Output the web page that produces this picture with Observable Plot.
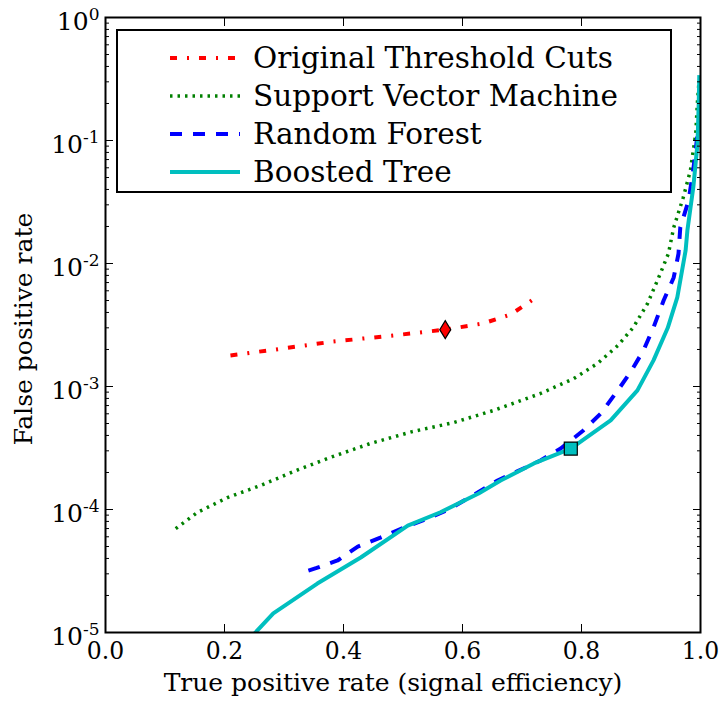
<!DOCTYPE html>
<html>
<head>
<meta charset="utf-8">
<script src="https://cdn.jsdelivr.net/npm/d3@7"></script>
<script src="https://cdn.jsdelivr.net/npm/@observablehq/plot@0.6"></script>
<style>
  body { margin: 0; background: #fff; }
  #wrap { position: relative; width: 725px; height: 701px; }
  #legend {
    position: absolute; left: 116px; top: 29px; width: 556px; height: 164px;
    box-sizing: border-box; border: 2px solid #000; background: #fff;
    padding-top: 8px; font-family: "DejaVu Serif", serif; font-size: 29.5px;
  }
  .row { height: 38px; display: flex; align-items: center; }
  .row svg { margin-left: 50px; width: 75px; height: 20px; flex: none; }
  .row span { margin-left: 10px; white-space: nowrap; }
</style>
</head>
<body>
<div id="wrap"></div>
<script>
// ---- data ----
const seriesNames = ["Original Threshold Cuts", "Support Vector Machine", "Random Forest", "Boosted Tree"];

const cutsTPR = [0.210, 0.286, 0.383, 0.484, 0.571, 0.634, 0.681, 0.724];
const cutsFPR = [1.79e-3, 2.0e-3, 2.32e-3, 2.60e-3, 2.90e-3, 3.25e-3, 3.85e-3, 5.3e-3];

const svmTPR = [0.118, 0.155, 0.205, 0.261, 0.324, 0.378, 0.445, 0.516, 0.585, 0.652, 0.731, 0.787, 0.827, 0.861, 0.887, 0.911, 0.929, 0.946, 0.955, 0.971, 0.983, 0.992, 0.995, 0.997];
const svmFPR = [7.0e-5, 9.5e-5, 1.25e-4, 1.57e-4, 2.11e-4, 2.65e-4, 3.44e-4, 4.30e-4, 5.09e-4, 6.38e-4, 8.77e-4, 1.16e-3, 1.54e-3, 2.15e-3, 3.02e-3, 4.73e-3, 7.55e-3, 1.2e-2, 1.96e-2, 3.44e-2, 5.7e-2, 0.114, 0.211, 0.28];

const rfTPR = [0.341, 0.355, 0.390, 0.424, 0.462, 0.501, 0.546, 0.580, 0.625, 0.659, 0.692, 0.731, 0.765, 0.803, 0.832, 0.861, 0.882, 0.904, 0.921, 0.938, 0.955, 0.963, 0.966, 0.980, 0.987, 0.992, 0.995];
const rfFPR = [3.19e-5, 3.35e-5, 3.85e-5, 5.0e-5, 5.9e-5, 7.1e-5, 8.6e-5, 1.02e-4, 1.37e-4, 1.72e-4, 2.04e-4, 2.50e-4, 3.13e-4, 4.39e-4, 6.0e-4, 9.3e-4, 1.30e-3, 1.96e-3, 3.02e-3, 5.0e-3, 7.7e-3, 1.2e-2, 1.96e-2, 3.25e-2, 5.4e-2, 8.3e-2, 0.115];

const btTPR = [0.245, 0.252, 0.282, 0.356, 0.429, 0.508, 0.563, 0.627, 0.664, 0.720, 0.782, 0.849, 0.894, 0.921, 0.945, 0.961, 0.975, 0.978, 0.988, 0.995, 0.997, 0.998];
const btFPR = [0.9e-5, 1.0e-5, 1.43e-5, 2.5e-5, 4.07e-5, 7.4e-5, 9.5e-5, 1.35e-4, 1.72e-4, 2.37e-4, 3.13e-4, 5.3e-4, 9.3e-4, 1.63e-3, 3.0e-3, 5.3e-3, 1.28e-2, 1.86e-2, 4.2e-2, 9.5e-2, 0.2, 0.34];

const cutsMarker = {tpr: 0.571, fpr: 2.90e-3};
const btMarker = {tpr: 0.782, fpr: 3.13e-4};

const xTicks = [0, 0.2, 0.4, 0.6, 0.8, 1.0];
const xTickLabels = ["0.0", "0.2", "0.4", "0.6", "0.8", "1.0"];
const yTicks = [1e-5, 1e-4, 1e-3, 1e-2, 1e-1, 1e0];
const yTickExponents = ["-5", "-4", "-3", "-2", "-1", "0"];
const yMinor = [];
for (let k = -5; k < 0; k++) for (let m = 2; m <= 9; m++) yMinor.push(m * Math.pow(10, k));

const xLabel = "True positive rate (signal efficiency)";
const yLabel = "False positive rate";

const colors = ["#ff0000", "#008000", "#0000ff", "#00bfbf"];
const dashes = ["7,10,2,10", "2.5,5", "12,11", null];
const widths = [4, 3.5, 4, 4];

// ---- build tables ----
const toRows = (tpr, fpr) => tpr.map((t, i) => ({tpr: t, fpr: fpr[i]}));
const tables = [toRows(cutsTPR, cutsFPR), toRows(svmTPR, svmFPR), toRows(rfTPR, rfFPR), toRows(btTPR, btFPR)];

const thinDiamond = {draw(ctx) { ctx.moveTo(0, -9); ctx.lineTo(5.5, 0); ctx.lineTo(0, 9); ctx.lineTo(-5.5, 0); ctx.closePath(); }};
const square = {draw(ctx) { ctx.rect(-6.5, -6.5, 13, 13); }};

const fmtX = d => xTickLabels[xTicks.indexOf(d)];
const yIndex = d => yTicks.findIndex(v => Math.abs(Math.log10(v) - Math.log10(d)) < 1e-6);
const fmtY = d => "10^" + yTickExponents[yIndex(d)];

const chart = Plot.plot({
  width: 725, height: 701,
  marginLeft: 105, marginRight: 25, marginTop: 17, marginBottom: 69,
  style: {fontFamily: "'DejaVu Serif', serif", color: "#000", background: "#fff"},
  x: {domain: [0, 1]},
  y: {type: "log", domain: [1e-5, 1]},
  marks: [
    ...tables.map((t, i) => Plot.line(t, {x: "tpr", y: "fpr", stroke: colors[i], strokeWidth: widths[i], strokeDasharray: dashes[i], strokeLinecap: "butt", strokeLinejoin: "round", clip: true})),
    Plot.dot([cutsMarker], {x: "tpr", y: "fpr", symbol: thinDiamond, fill: colors[0], stroke: "#000", strokeWidth: 1.2}),
    Plot.dot([btMarker], {x: "tpr", y: "fpr", symbol: square, fill: colors[3], stroke: "#000", strokeWidth: 1.2}),
    // bottom axis (inward ticks) with labels
    Plot.axisX({anchor: "bottom", ticks: xTicks, tickSize: 8, dy: -8, tickPadding: 10, tickFormat: fmtX, fontSize: 23.5, label: null, strokeWidth: 1}),
    // top axis ticks only
    Plot.axisX({anchor: "top", ticks: xTicks, tickSize: 8, dy: 8, tickFormat: () => "", label: null, strokeWidth: 1}),
    // left axis: ticks, minor ticks, labels
    Plot.axisY({anchor: "left", ticks: yTicks, tickSize: 8, dx: 8, tickFormat: () => "", label: null, strokeWidth: 1}),
    Plot.axisY({anchor: "left", ticks: yMinor, tickSize: 4, dx: 4, tickFormat: () => "", label: null, strokeWidth: 1}),
    Plot.axisY({anchor: "left", ticks: yTicks, tickSize: 0, dy: 4, tickPadding: 6, tickFormat: fmtY, fontSize: 25, label: null}),
    // right axis major + minor
    Plot.axisY({anchor: "right", ticks: yTicks, tickSize: 8, dx: -8, tickFormat: () => "", label: null, strokeWidth: 1}),
    Plot.axisY({anchor: "right", ticks: yMinor, tickSize: 4, dx: -4, tickFormat: () => "", label: null, strokeWidth: 1}),
    Plot.frame({stroke: "#000", strokeWidth: 2}),
    Plot.text([xLabel], {frameAnchor: "bottom", dx: -10, dy: 58, fontSize: 25, fill: "#000"}),
    Plot.text([yLabel], {frameAnchor: "left", textAnchor: "middle", lineAnchor: "middle", dx: -82, dy: 4, rotate: -90, fontSize: 25, fill: "#000"})
  ]
});

// render exponents as superscript tspans
d3.select(chart).selectAll("text").each(function () {
  const t = this.textContent;
  const m = /^10\^(.+)$/.exec(t);
  if (!m) return;
  const sel = d3.select(this);
  sel.text(null);
  sel.append("tspan").text("10");
  sel.append("tspan").attr("dy", "-10").attr("font-size", 17).text(m[1]);
});

const wrap = document.getElementById("wrap");
wrap.appendChild(chart);

// ---- legend overlay ----
const legend = document.createElement("div");
legend.id = "legend";
seriesNames.forEach((name, i) => {
  const row = document.createElement("div");
  row.className = "row";
  const dash = dashes[i] ? ` stroke-dasharray="${dashes[i]}"` : "";
  row.innerHTML = `<svg viewBox="0 0 75 20"><line x1="2" y1="10" x2="72" y2="10" stroke="${colors[i]}" stroke-width="${widths[i]}"${dash}/></svg><span>${name}</span>`;
  legend.appendChild(row);
});
wrap.appendChild(legend);
</script>
</body>
</html>
